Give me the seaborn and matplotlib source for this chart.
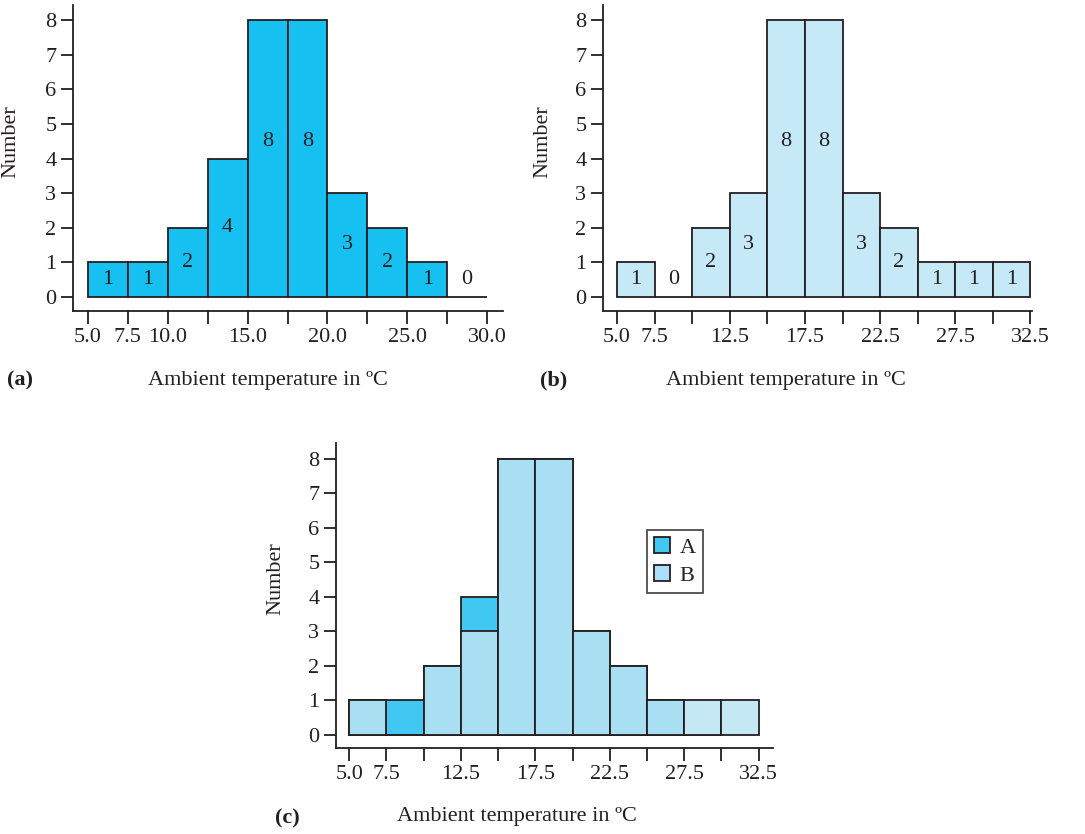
import numpy as np
import pandas as pd
import seaborn as sns
import matplotlib.pyplot as plt
from matplotlib.patches import Patch

# bin edges (°C) and counts
edges_a = [5.0, 7.5, 10.0, 12.5, 15.0, 17.5, 20.0, 22.5, 25.0, 27.5, 30.0]
counts_a = [1, 1, 2, 4, 8, 8, 3, 2, 1, 0]
edges_b = [5.0, 7.5, 10.0, 12.5, 15.0, 17.5, 20.0, 22.5, 25.0, 27.5, 30.0, 32.5]
counts_b = [1, 0, 2, 3, 8, 8, 3, 2, 1, 1, 1]

ticklabels_a = ["5.0", "7.5", "10.0", "", "15.0", "", "20.0", "", "25.0", "", "30.0"]
ticklabels_b = ["5.0", "7.5", "", "12.5", "", "17.5", "", "22.5", "", "27.5", "", "32.5"]
yticks = [0, 1, 2, 3, 4, 5, 6, 7, 8]
legend_names = ["A", "B"]

INK = "#231f20"
LW = 1.3
XLABEL = "Ambient temperature in \u00baC"

sns.set_theme(style="ticks")
plt.rcParams["font.family"] = ["Liberation Serif", "DejaVu Serif"]
plt.rcParams["text.color"] = INK
plt.rcParams["axes.labelcolor"] = INK
plt.rcParams["xtick.color"] = INK
plt.rcParams["ytick.color"] = INK

fig = plt.figure(figsize=(10.85, 8.34), dpi=100)
W, H = 1085, 834


def px_axes(left, top, right, bottom):
    return fig.add_axes([left / W, 1 - bottom / H, (right - left) / W, (bottom - top) / H])


def bin_table(edges, counts):
    e = np.asarray(edges)
    return pd.DataFrame({"temp": (e[:-1] + e[1:]) / 2, "n": counts})


def draw_hist(ax, edges, counts, color, alpha=1.0):
    sns.histplot(data=bin_table(edges, counts), x="temp", weights="n", bins=list(edges),
                 color=color, alpha=alpha, edgecolor=INK, linewidth=LW, ax=ax)


def label_bars(ax, edges, counts):
    df = bin_table(edges, counts)
    for c, n in zip(df["temp"], df["n"]):
        y = 4.5 if n >= 8 else max(n / 2, 0.5)
        ax.text(c, y, str(n), ha="center", va="center", fontsize=16)


def style(ax, edges, ticklabels, xlim, ylim, xlab_x, ylab_x, ylab_y):
    ax.set_xlim(*xlim)
    ax.set_ylim(*ylim)
    ax.set_xticks(edges)
    ax.set_xticklabels(ticklabels)
    ax.set_yticks(yticks)
    ax.tick_params(axis="both", direction="out", length=9, width=LW, labelsize=16, pad=3)
    for s in ["top", "right"]:
        ax.spines[s].set_visible(False)
    for s in ["left", "bottom"]:
        ax.spines[s].set_linewidth(LW)
        ax.spines[s].set_color(INK)
    ax.set_xlabel(XLABEL, fontsize=16)
    ax.set_ylabel("Number", fontsize=16)
    ax.xaxis.set_label_coords(xlab_x, -0.195)
    ax.yaxis.set_label_coords(ylab_x, ylab_y)


# (a)
ax_a = px_axes(73, 5, 503, 311)
draw_hist(ax_a, edges_a, counts_a, "#16c0f0")
label_bars(ax_a, edges_a, counts_a)
style(ax_a, edges_a, ticklabels_a, (4.06, 31.0), (-0.41, 8.44), 0.453, -0.123, 0.552)

# (b)
ax_b = px_axes(603, 5, 1032, 311)
draw_hist(ax_b, edges_b, counts_b, "#c6e9f8")
label_bars(ax_b, edges_b, counts_b)
style(ax_b, edges_b, ticklabels_b, (4.07, 32.6), (-0.41, 8.44), 0.427, -0.117, 0.552)

# (c) overlay of A and B
ax_c = px_axes(336, 443, 773, 748)
draw_hist(ax_c, edges_a, counts_a, "#40c8f2")
draw_hist(ax_c, edges_b, counts_b, "#bbe4f4", alpha=0.85)
style(ax_c, edges_b, ticklabels_b, (4.11, 33.46), (-0.39, 8.45), 0.415, -0.116, 0.555)
handles = [Patch(facecolor="#40c8f2", edgecolor=INK, linewidth=LW),
           Patch(facecolor="#abdff9", edgecolor=INK, linewidth=LW)]
leg = ax_c.legend(handles, legend_names, loc="upper left", bbox_to_anchor=(0.711, 0.716),
                  borderaxespad=0, fontsize=16, handlelength=0.7, handleheight=0.7,
                  handletextpad=0.45, fancybox=False, frameon=True, borderpad=0.33,
                  labelspacing=0.34)
leg.get_frame().set_edgecolor(INK)
leg.get_frame().set_linewidth(LW)

for lab, x, y in [("(a)", 7, 380), ("(b)", 540, 380), ("(c)", 275, 818)]:
    fig.text(x / W, 1 - y / H, lab, fontsize=16, fontweight="bold", ha="left", va="center")

fig.savefig("out.png", dpi=100)
